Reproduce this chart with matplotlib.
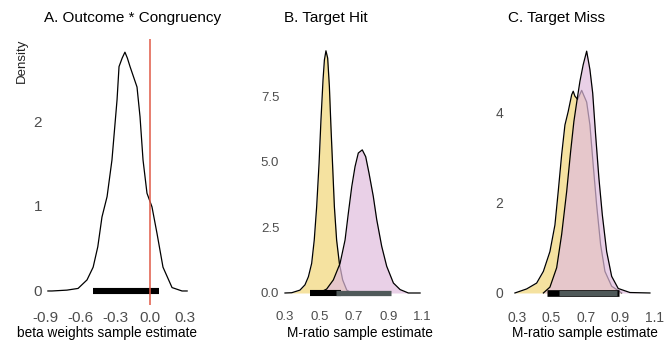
import numpy as np
import matplotlib
matplotlib.use('Agg')
import matplotlib.pyplot as plt

plt.rcParams['font.family'] = ['Liberation Sans', 'DejaVu Sans']
plt.rcParams['axes.unicode_minus'] = False

# A. Outcome * Congruency : posterior density of the beta weight
a_x = [-0.88, -0.845, -0.716, -0.62, -0.543, -0.49, -0.45, -0.414, -0.37, -0.328, -0.284,
       -0.267, -0.24, -0.216, -0.195, -0.172, -0.112, -0.086, -0.06, -0.026, 0.017, 0.06,
       0.112, 0.19, 0.276, 0.32]
a_y = [0.0, 0.0, 0.01, 0.03, 0.13, 0.28, 0.52, 0.87, 1.11, 1.54, 2.25,
       2.64, 2.74, 2.81, 2.74, 2.64, 2.40, 2.05, 1.54, 1.15, 0.99, 0.68,
       0.28, 0.04, 0.0, 0.0]
a_hdi = [-0.49, 0.078]
a_ref = 0.0

# B. Target Hit : M-ratio densities (yellow group, pink group)
b1_x = [0.30, 0.339, 0.387, 0.416, 0.436, 0.455, 0.47, 0.484, 0.498, 0.509, 0.521, 0.529,
        0.538, 0.548, 0.558, 0.567, 0.577, 0.587, 0.60, 0.616, 0.635, 0.659, 0.688, 0.72]
b1_y = [0.0, 0.01, 0.11, 0.31, 0.62, 1.13, 2.02, 3.29, 4.95, 6.6, 8.13, 8.89,
        9.24, 8.96, 7.87, 6.35, 4.82, 3.29, 2.02, 1.13, 0.5, 0.11, 0.0, 0.0]
b2_x = [0.48, 0.503, 0.542, 0.581, 0.62, 0.649, 0.668, 0.688, 0.707, 0.726, 0.749, 0.769,
        0.788, 0.813, 0.833, 0.862, 0.891, 0.93, 0.969, 1.017, 1.085]
b2_y = [0.0, 0.02, 0.15, 0.5, 1.13, 2.02, 3.04, 4.06, 4.82, 5.34, 5.46, 5.2,
        4.58, 3.69, 2.8, 1.78, 1.02, 0.38, 0.13, 0.0, 0.0]
b1_hdi = [0.445, 0.624]
b2_hdi = [0.595, 0.914]

# C. Target Miss
c1_x = [0.288, 0.356, 0.414, 0.453, 0.491, 0.52, 0.539, 0.559, 0.578, 0.597, 0.617, 0.626,
        0.636, 0.652, 0.675, 0.704, 0.723, 0.742, 0.762, 0.785, 0.81, 0.849, 0.907]
c1_y = [0.0, 0.09, 0.22, 0.48, 0.92, 1.51, 2.25, 3.07, 3.73, 4.03, 4.4, 4.48,
        4.37, 4.3, 4.5, 4.24, 3.73, 2.84, 1.95, 1.07, 0.48, 0.15, 0.0]
c2_x = [0.453, 0.491, 0.53, 0.559, 0.588, 0.611, 0.63, 0.65, 0.665, 0.684, 0.704, 0.723,
        0.739, 0.756, 0.775, 0.795, 0.82, 0.849, 0.887, 0.955, 1.071]
c2_y = [0.0, 0.13, 0.56, 1.3, 2.25, 3.14, 3.81, 4.33, 4.7, 5.07, 5.37, 4.96,
        4.44, 3.51, 2.55, 1.73, 0.92, 0.37, 0.1, 0.01, 0.0]
c1_hdi = [0.472, 0.893]
c2_hdi = [0.543, 0.881]

titles = ['A. Outcome * Congruency', 'B. Target Hit', 'C. Target Miss']
xlabels = ['beta weights sample estimate', 'M-ratio sample estimate', 'M-ratio sample estimate']

yellow = '#f5e2a0'
pink = '#e0bcde'
grey_bar = '#4f5959'
tick_col = '#4d4d4d'

W, H = 666, 345
fig = plt.figure(figsize=(W / 100, H / 100), dpi=100)


def add_ax(left, right, top=39, bottom=305):
    return fig.add_axes([left / W, 1 - bottom / H, (right - left) / W, (bottom - top) / H])


def style(ax, size):
    for s in ax.spines.values():
        s.set_visible(False)
    ax.tick_params(axis='both', length=0, labelsize=size, colors=tick_col)
    ax.tick_params(axis='x', pad=4)
    ax.tick_params(axis='y', pad=2)


# panel A
axA = add_ax(45, 192)
axA.plot(a_x, a_y, color='black', lw=0.9, zorder=2)
axA.axvline(a_ref, color='#e05a47', lw=1.1, zorder=4)
axA.hlines(0, a_hdi[0], a_hdi[1], color='black', lw=4.4, zorder=3)
axA.set_xlim(-0.905, 0.362)
axA.set_ylim(-0.165, 2.965)
axA.set_xticks([-0.9, -0.6, -0.3, 0.0, 0.3])
axA.set_xticklabels(['-0.9', '-0.6', '-0.3', '0.0', '0.3'])
axA.set_yticks([0, 1, 2])
style(axA, 11)

# panel B
axB = add_ax(282, 428)
axB.fill_between(b1_x, b1_y, color=yellow, lw=0, zorder=1)
axB.plot(b1_x, b1_y, color='black', lw=0.9, zorder=1)
axB.fill_between(b2_x, b2_y, color=pink, alpha=0.7, lw=0, zorder=2)
axB.plot(b2_x, b2_y, color='black', lw=0.9, zorder=2)
axB.hlines(0, b1_hdi[0], b1_hdi[1], color='black', lw=4.4, zorder=3)
axB.hlines(0, b2_hdi[0], b2_hdi[1], color=grey_bar, lw=3.8, zorder=4)
axB.set_xlim(0.2826, 1.131)
axB.set_ylim(-0.458, 9.69)
axB.set_xticks([0.3, 0.5, 0.7, 0.9, 1.1])
axB.set_yticks([0, 2.5, 5, 7.5])
axB.set_yticklabels(['0.0', '2.5', '5.0', '7.5'])
style(axB, 9.5)

# panel C
axC = add_ax(506, 662)
axC.fill_between(c1_x, c1_y, color=yellow, lw=0, zorder=1)
axC.plot(c1_x, c1_y, color='black', lw=0.9, zorder=1)
axC.fill_between(c2_x, c2_y, color=pink, alpha=0.7, lw=0, zorder=2)
axC.plot(c2_x, c2_y, color='black', lw=0.9, zorder=2)
axC.hlines(0, c1_hdi[0], c1_hdi[1], color='black', lw=4.8, zorder=3)
axC.hlines(0, c2_hdi[0], c2_hdi[1], color=grey_bar, lw=3.8, zorder=4)
axC.set_xlim(0.2362, 1.141)
axC.set_ylim(-0.267, 5.64)
axC.set_xticks([0.3, 0.5, 0.7, 0.9, 1.1])
axC.set_yticks([0, 2, 4])
style(axC, 10)

# titles / labels
for t, cx in zip(titles, [133, 326, 557]):
    fig.text(cx / W, 1 - 18 / H, t, ha='center', va='center', fontsize=11, color='black')
for t, cx in zip(xlabels, [107, 360, 585]):
    fig.text(cx / W, 1 - 333 / H, t, ha='center', va='center', fontsize=9.8, color='black')
fig.text(22 / W, 1 - 61 / H, 'Density', ha='center', va='center', rotation=90,
         fontsize=9.5, color='#222222')

fig.savefig('out.png', dpi=100)
